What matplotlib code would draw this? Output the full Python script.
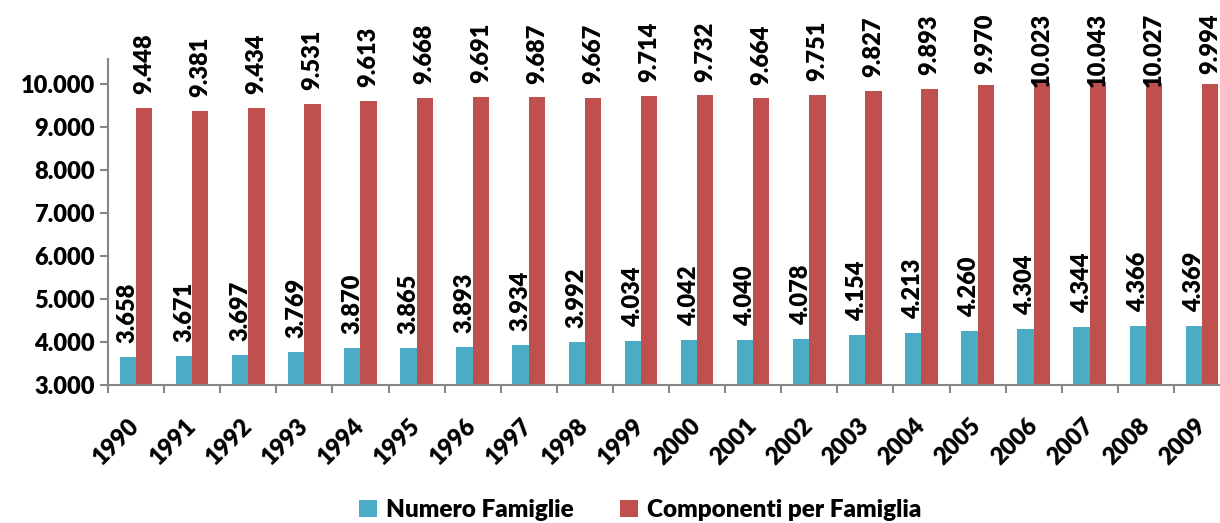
import numpy as np
import matplotlib.pyplot as plt
from matplotlib.ticker import FuncFormatter

anni = ["1990", "1991", "1992", "1993", "1994", "1995", "1996", "1997", "1998", "1999",
        "2000", "2001", "2002", "2003", "2004", "2005", "2006", "2007", "2008", "2009"]
numero_famiglie = [3658, 3671, 3697, 3769, 3870, 3865, 3893, 3934, 3992, 4034,
                   4042, 4040, 4078, 4154, 4213, 4260, 4304, 4344, 4366, 4369]
componenti = [9448, 9381, 9434, 9531, 9613, 9668, 9691, 9687, 9667, 9714,
              9732, 9664, 9751, 9827, 9893, 9970, 10023, 10043, 10027, 9994]

plt.rcParams['font.family'] = ['Lato', 'DejaVu Sans']
plt.rcParams['font.weight'] = 'heavy'

blu = "#4BACC6"
rosso = "#C0504D"
grigio = "#868686"
peso = "heavy"


def punto(v, pos=None):
    return f"{int(v):,}".replace(",", ".")


W, H = 1220, 523
fig = plt.figure(figsize=(W / 100, H / 100), dpi=100)
ax = fig.add_axes([108 / W, 138 / H, 1122 / W, 326 / H])

x = np.arange(len(anni))
w = 0.29
ax.bar(x - w / 2, numero_famiglie, w, color=blu, label="Numero Famiglie")
ax.bar(x + w / 2, componenti, w, color=rosso, label="Componenti per Famiglia")

ax.set_xlim(-0.5, len(anni) - 0.5)
ax.set_ylim(3000, 10580)
ax.set_yticks(range(3000, 10001, 1000))
ax.yaxis.set_major_formatter(FuncFormatter(punto))

ax.set_xticks(np.arange(len(anni) + 1) - 0.5)
ax.set_xticklabels([])
ax.set_xticks(x, minor=True)
ax.set_xticklabels(anni, minor=True, rotation=45, ha="right", va="center",
                   rotation_mode="anchor", fontsize=17, fontweight=peso)
ax.tick_params(axis="x", which="minor", length=0, pad=27)
ax.tick_params(axis="x", which="major", length=6, color=grigio, width=1.5)
ax.tick_params(axis="y", length=6, color=grigio, width=1.5, labelsize=17)
for lab in ax.get_yticklabels():
    lab.set_fontweight(peso)

for s in ["top", "right"]:
    ax.spines[s].set_visible(False)
for s in ["left", "bottom"]:
    ax.spines[s].set_color(grigio)
    ax.spines[s].set_linewidth(1.5)

testi_rossi = []
for xi, v in zip(x, numero_famiglie):
    ax.annotate(punto(v), (xi - w / 2, v), xytext=(0, 10), textcoords="offset points",
                rotation=90, ha="center", va="bottom", fontsize=17, fontweight=peso,
                annotation_clip=False)
for xi, v in zip(x, componenti):
    t = ax.annotate(punto(v), (xi + w / 2, v), xytext=(0, 10), textcoords="offset points",
                    rotation=90, ha="center", va="bottom", fontsize=17, fontweight=peso,
                    annotation_clip=False)
    testi_rossi.append(t)

# labels that would go past the top are pushed down (as Excel does)
fig.canvas.draw()
limite = H - 13
for t in testi_rossi[:-1]:
    bb = t.get_window_extent()
    if bb.y1 > limite:
        giu = (bb.y1 - limite) * 72 / 100
        t.xyann = (0, 10 - giu)
# the last one sits against the right edge, it keeps a smaller gap
testi_rossi[-1].xyann = (0, 7)

fig.legend(loc="center", bbox_to_anchor=(640 / W, 13 / H), ncol=2, frameon=False,
           prop={"size": 17.5, "weight": peso}, handlelength=0.75, handleheight=0.75,
           columnspacing=1.9, handletextpad=0.35)

fig.savefig("out.png", dpi=100)
